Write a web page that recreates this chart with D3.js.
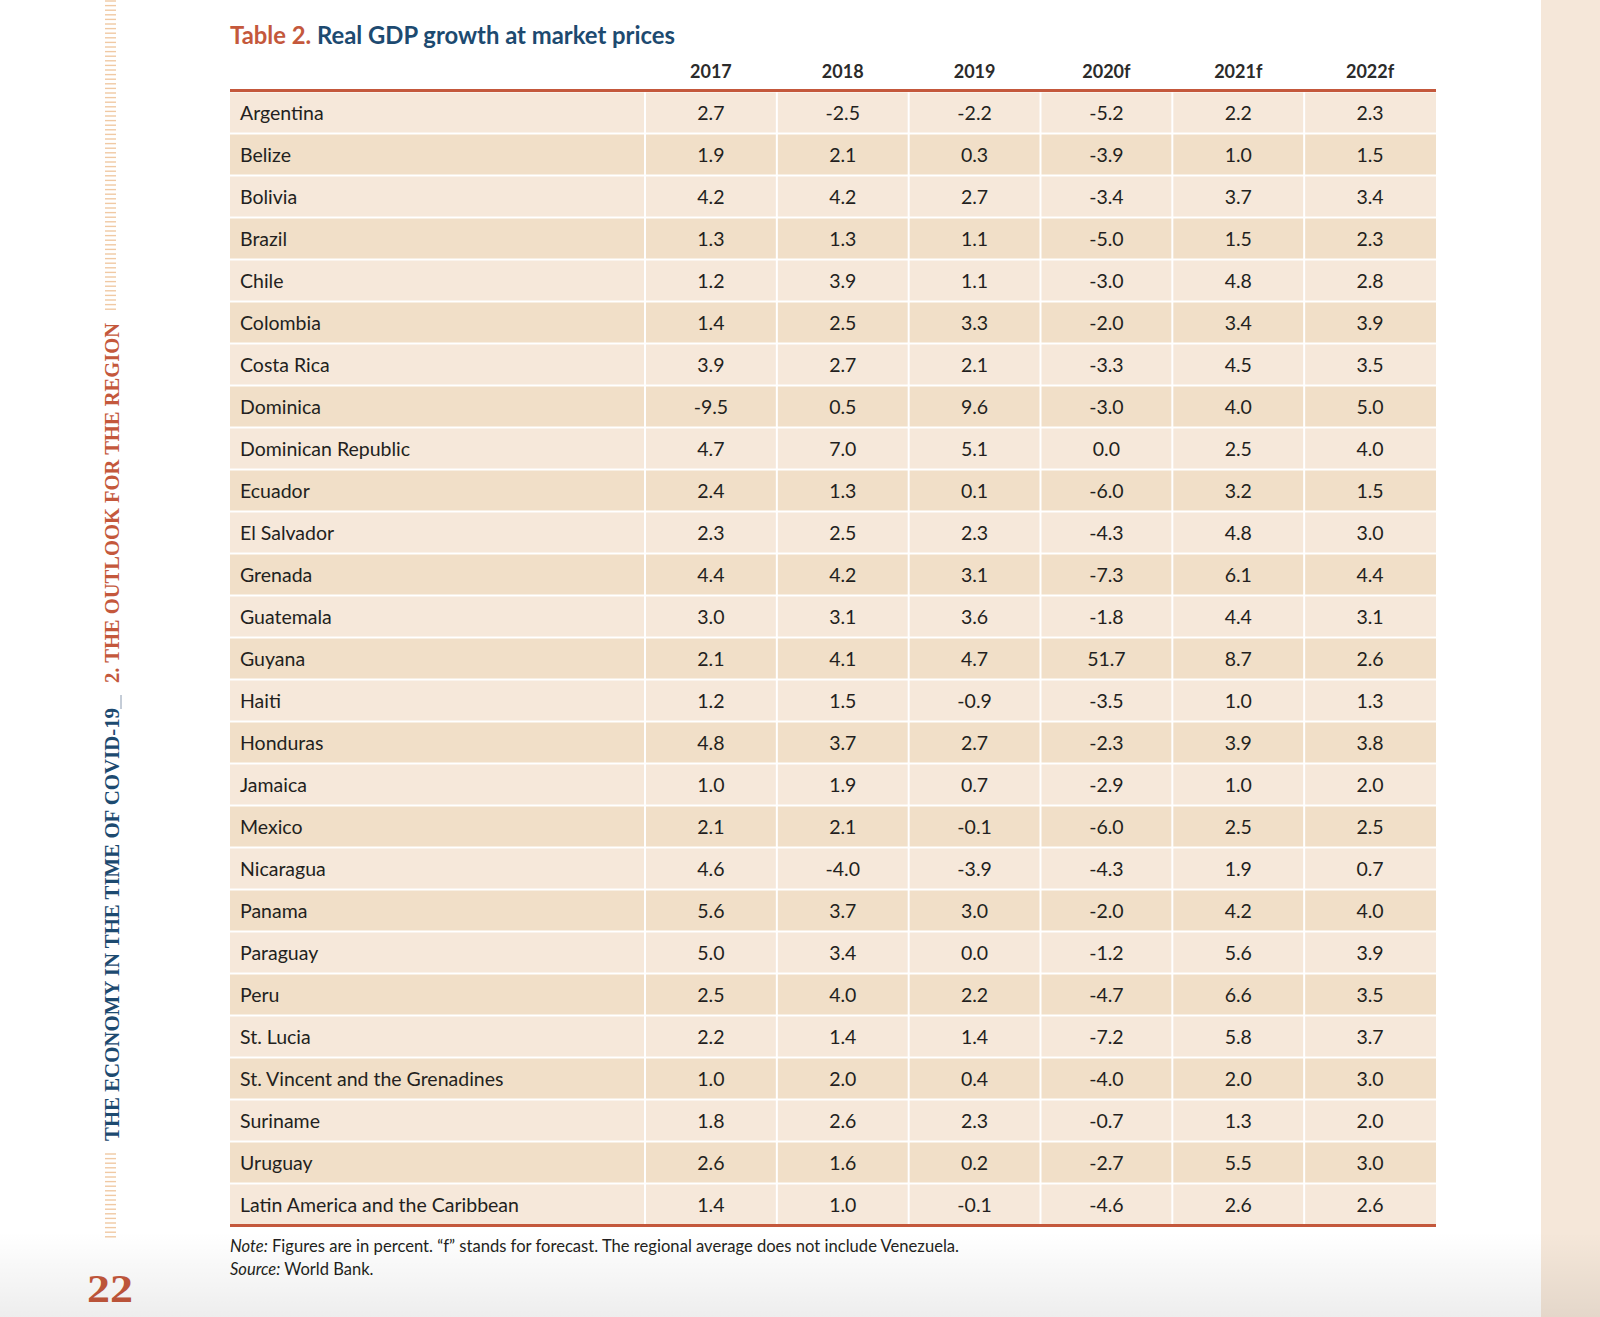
<!DOCTYPE html>
<html>
<head>
<meta charset="utf-8">
<script src="https://cdn.jsdelivr.net/npm/d3@7"></script>
<style>
  html, body { margin: 0; padding: 0; background: #ffffff; }
  svg { display: block; }
</style>
</head>
<body>
<svg id="chart" width="1600" height="1317"></svg>
<script>
// ---------- DATA ----------
const countries = ["Argentina","Belize","Bolivia","Brazil","Chile","Colombia","Costa Rica","Dominica",
  "Dominican Republic","Ecuador","El Salvador","Grenada","Guatemala","Guyana","Haiti","Honduras",
  "Jamaica","Mexico","Nicaragua","Panama","Paraguay","Peru","St. Lucia",
  "St. Vincent and the Grenadines","Suriname","Uruguay","Latin America and the Caribbean"];
const years = ["2017","2018","2019","2020f","2021f","2022f"];
const v2017 = [2.7,1.9,4.2,1.3,1.2,1.4,3.9,-9.5,4.7,2.4,2.3,4.4,3.0,2.1,1.2,4.8,1.0,2.1,4.6,5.6,5.0,2.5,2.2,1.0,1.8,2.6,1.4];
const v2018 = [-2.5,2.1,4.2,1.3,3.9,2.5,2.7,0.5,7.0,1.3,2.5,4.2,3.1,4.1,1.5,3.7,1.9,2.1,-4.0,3.7,3.4,4.0,1.4,2.0,2.6,1.6,1.0];
const v2019 = [-2.2,0.3,2.7,1.1,1.1,3.3,2.1,9.6,5.1,0.1,2.3,3.1,3.6,4.7,-0.9,2.7,0.7,-0.1,-3.9,3.0,0.0,2.2,1.4,0.4,2.3,0.2,-0.1];
const v2020f = [-5.2,-3.9,-3.4,-5.0,-3.0,-2.0,-3.3,-3.0,0.0,-6.0,-4.3,-7.3,-1.8,51.7,-3.5,-2.3,-2.9,-6.0,-4.3,-2.0,-1.2,-4.7,-7.2,-4.0,-0.7,-2.7,-4.6];
const v2021f = [2.2,1.0,3.7,1.5,4.8,3.4,4.5,4.0,2.5,3.2,4.8,6.1,4.4,8.7,1.0,3.9,1.0,2.5,1.9,4.2,5.6,6.6,5.8,2.0,1.3,5.5,2.6];
const v2022f = [2.3,1.5,3.4,2.3,2.8,3.9,3.5,5.0,4.0,1.5,3.0,4.4,3.1,2.6,1.3,3.8,2.0,2.5,0.7,4.0,3.9,3.5,3.7,3.0,2.0,3.0,2.6];
const seriesValues = [v2017, v2018, v2019, v2020f, v2021f, v2022f];
const titleLabel = "Table 2.";
const titleText = "Real GDP growth at market prices";
const noteLabel = "Note:";
const noteText = " Figures are in percent. \u201Cf\u201D stands for forecast. The regional average does not include Venezuela.";
const sourceLabel = "Source:";
const sourceText = " World Bank.";
const sideTitleA = "THE ECONOMY IN THE TIME OF COVID-19";
const sideTitleB = "2. THE OUTLOOK FOR THE REGION";
const pageNumber = "22";

// ---------- STYLE ----------
const ORANGE = "#c4583c";
const NAVY = "#1d4a70";
const LIGHT = "#f6e8da";
const DARK = "#f1dfc8";
const TEXT = "#231f20";
const FONT = "Lato, 'Open Sans', sans-serif";
const SERIF = "'Liberation Serif', 'DejaVu Serif', serif";

const svg = d3.select("#chart");
const defs = svg.append("defs");
const grad = defs.append("linearGradient").attr("id","bottomShade")
  .attr("x1",0).attr("y1",0).attr("x2",0).attr("y2",1);
grad.append("stop").attr("offset","0%").attr("stop-color","#000").attr("stop-opacity",0);
grad.append("stop").attr("offset","100%").attr("stop-color","#000").attr("stop-opacity",0.07);

// right strip
svg.append("rect").attr("x",1541).attr("y",0).attr("width",59).attr("height",1317).attr("fill","#f5e7d9");

// ---------- SCALES ----------
const tableLeft = 230, labelRight = 645, tableRight = 1436;
const tableTop = 91.5, tableBottom = 1225.5;
const y = d3.scaleBand().domain(countries).range([tableTop, tableBottom]).padding(0);
const x = d3.scaleBand().domain(years).range([labelRight, tableRight]).padding(0);

// ---------- TITLE ----------
const title = svg.append("text").attr("x", tableLeft).attr("y", 44)
  .attr("font-family", FONT).attr("font-weight", 700).attr("font-size", 24.5)
  .attr("textLength", 445).attr("lengthAdjust", "spacingAndGlyphs");
title.append("tspan").attr("fill", ORANGE).text(titleLabel + " ");
title.append("tspan").attr("fill", NAVY).text(titleText);

// ---------- HEADER ----------
svg.append("g").selectAll("text").data(years).join("text")
  .attr("x", d => x(d) + x.bandwidth()/2).attr("y", 78)
  .attr("text-anchor","middle").attr("font-family", FONT).attr("font-weight",700)
  .attr("font-size", 18).attr("fill", "#2b2b2b").text(d => d);

// ---------- ROWS ----------
const rows = svg.append("g");
countries.forEach((c, i) => {
  const y0 = y(c), h = y.bandwidth();
  const fill = i % 2 === 0 ? LIGHT : DARK;
  rows.append("rect").attr("x", tableLeft).attr("y", y0 + 1)
    .attr("width", labelRight - 1 - tableLeft).attr("height", h - 2).attr("fill", fill);
  years.forEach((yr, j) => {
    const x0 = x(yr);
    const last = j === years.length - 1;
    rows.append("rect").attr("x", x0 + 1).attr("y", y0 + 1)
      .attr("width", x.bandwidth() - (last ? 1 : 2)).attr("height", h - 2).attr("fill", fill);
  });
  rows.append("text").attr("x", tableLeft + 10).attr("y", y0 + h/2 + 7.5)
    .attr("font-family", FONT).attr("font-size", 19.5).attr("fill", TEXT).text(c);
  years.forEach((yr, j) => {
    rows.append("text").attr("x", x(yr) + x.bandwidth()/2).attr("y", y0 + h/2 + 7.5)
      .attr("text-anchor","middle").attr("font-family", FONT).attr("font-size", 19.5)
      .attr("fill", TEXT).text(seriesValues[j][i].toFixed(1));
  });
});

// rules
svg.append("line").attr("x1", tableLeft).attr("x2", tableRight).attr("y1", tableTop - 1).attr("y2", tableTop - 1)
  .attr("stroke", ORANGE).attr("stroke-width", 3);
svg.append("line").attr("x1", tableLeft).attr("x2", tableRight).attr("y1", tableBottom).attr("y2", tableBottom)
  .attr("stroke", ORANGE).attr("stroke-width", 3);

// ---------- NOTE ----------
const note = svg.append("text").attr("x", tableLeft).attr("y", 1252)
  .attr("font-family", FONT).attr("font-size", 16.5).attr("fill", TEXT)
  .attr("textLength", 729).attr("lengthAdjust", "spacingAndGlyphs");
note.append("tspan").attr("font-style","italic").text(noteLabel);
note.append("tspan").text(noteText);
const src = svg.append("text").attr("x", tableLeft).attr("y", 1275)
  .attr("font-family", FONT).attr("font-size", 16.5).attr("fill", TEXT);
src.append("tspan").attr("font-style","italic").text(sourceLabel);
src.append("tspan").text(sourceText);

// ---------- SIDE DECORATION ----------
const ticks = svg.append("g").attr("stroke", "#f0c9a3").attr("stroke-width", 1.4);
d3.range(1, 312, 4.6).forEach(t => ticks.append("line").attr("x1",105).attr("x2",116).attr("y1",t).attr("y2",t));
d3.range(1154, 1238, 4.6).forEach(t => ticks.append("line").attr("x1",105).attr("x2",116).attr("y1",t).attr("y2",t));

svg.append("text").attr("transform","translate(119,1141) rotate(-90)")
  .attr("font-family", SERIF).attr("font-weight",700).attr("font-size",22).attr("fill",NAVY)
  .attr("textLength",433).attr("lengthAdjust","spacingAndGlyphs").text(sideTitleA);
svg.append("line").attr("x1",121).attr("x2",121).attr("y1",695).attr("y2",709)
  .attr("stroke","#8a9ab0").attr("stroke-width",1);
svg.append("text").attr("transform","translate(119,683) rotate(-90)")
  .attr("font-family", SERIF).attr("font-weight",700).attr("font-size",22).attr("fill",ORANGE)
  .attr("textLength",360).attr("lengthAdjust","spacingAndGlyphs").text(sideTitleB);

svg.append("text").attr("x",87).attr("y",1302)
  .attr("font-family", SERIF).attr("font-weight",700).attr("font-size",40).attr("fill",ORANGE)
  .attr("textLength",46).attr("lengthAdjust","spacingAndGlyphs").text(pageNumber);

// bottom shade
svg.append("rect").attr("x",0).attr("y",1232).attr("width",1600).attr("height",85)
  .attr("fill","url(#bottomShade)").attr("pointer-events","none");
</script>
</body>
</html>
